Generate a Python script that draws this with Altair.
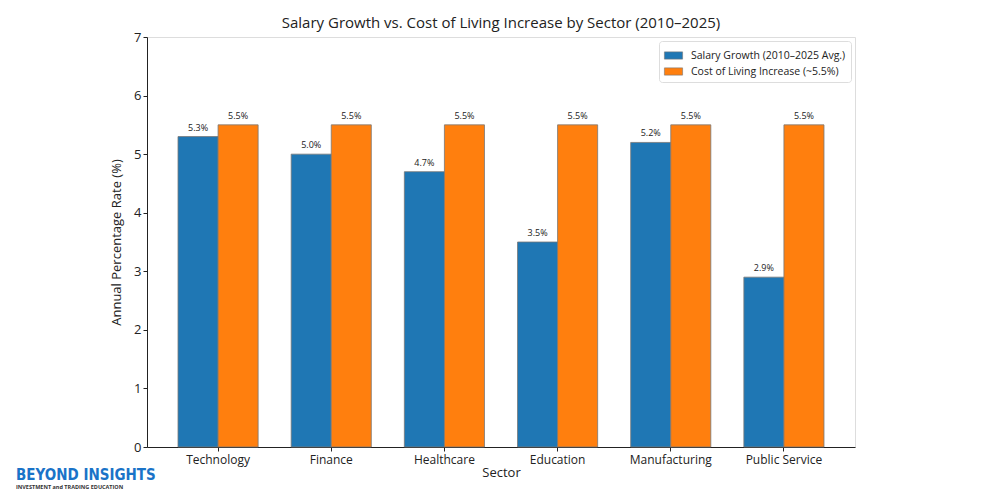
import altair as alt
import pandas as pd

sectors = ["Technology", "Finance", "Healthcare", "Education", "Manufacturing", "Public Service"]
salary_growth = [5.3, 5.0, 4.7, 3.5, 5.2, 2.9]
cost_of_living = [5.5, 5.5, 5.5, 5.5, 5.5, 5.5]
series_names = ["Salary Growth (2010–2025 Avg.)", "Cost of Living Increase (~5.5%)"]
series_colors = ["#1f77b4", "#ff7f0e"]

rows = []
for s, a, b in zip(sectors, salary_growth, cost_of_living):
    rows.append({"Sector": s, "Series": series_names[0], "Value": a, "Label": f"{a:.1f}%"})
    rows.append({"Sector": s, "Series": series_names[1], "Value": b, "Label": f"{b:.1f}%"})
df = pd.DataFrame(rows)

FONT = "Open Sans"

x_enc = alt.X("Sector:N", sort=sectors, title="Sector",
              scale=alt.Scale(paddingInner=0.292, paddingOuter=0.274),
              axis=alt.Axis(labelAngle=0, labelFontSize=12, titleFontSize=13,
                            labelColor="#222", titleColor="#222", labelPadding=3,
                            tickSize=4, tickColor="#222", domainColor="#222",
                            titlePadding=1, titleFontWeight="normal", labelFont=FONT, titleFont=FONT))
xo_enc = alt.XOffset("Series:N", sort=series_names, scale=alt.Scale(paddingInner=0, paddingOuter=0))
y_enc = alt.Y("Value:Q", title="Annual Percentage Rate (%)",
              scale=alt.Scale(domain=[0, 7], nice=False),
              axis=alt.Axis(values=[0, 1, 2, 3, 4, 5, 6, 7], format="d", grid=False, labelFontSize=13,
                            titleFontSize=13, labelColor="#222", titleColor="#222",
                            tickSize=4, tickColor="#222", domainColor="#222",
                            titlePadding=10, titleFontWeight="normal", labelFont=FONT, titleFont=FONT))

bars = alt.Chart(df).mark_bar(stroke="#777", strokeWidth=0.8).encode(
    x=x_enc, xOffset=xo_enc, y=y_enc,
    color=alt.Color("Series:N", sort=series_names,
                    scale=alt.Scale(domain=series_names, range=series_colors),
                    legend=alt.Legend(title=None, orient="top-right", offset=4,
                                      symbolType="M-1,-0.4H1V0.4H-1Z", symbolSize=330,
                                      symbolStrokeWidth=0.6, symbolStrokeColor="#777",
                                      labelFontSize=10.5, labelFont=FONT, labelColor="#222",
                                      labelLimit=0, labelOffset=8,
                                      fillColor="white", strokeColor="#ddd", padding=5,
                                      cornerRadius=3, rowPadding=1))
)

labels = alt.Chart(df).mark_text(dy=-9, fontSize=9, font=FONT, color="#222").encode(
    x=alt.X("Sector:N", sort=sectors), xOffset=alt.XOffset("Series:N", sort=series_names),
    y="Value:Q", text="Label:N"
)

logo1 = alt.Chart(pd.DataFrame({"t": ["BEYOND INSIGHTS"]})).mark_text(
    align="left", baseline="middle", fontSize=15, fontWeight="bold", font="DejaVu Sans Condensed",
    color="#1a73c8").encode(x=alt.value(-131), y=alt.value(438), text="t:N")
logo2 = alt.Chart(pd.DataFrame({"t": ["INVESTMENT and TRADING EDUCATION"]})).mark_text(
    align="left", baseline="middle", fontSize=5.5, fontWeight="bold", font=FONT,
    color="#333").encode(x=alt.value(-131), y=alt.value(450), text="t:N")

chart = alt.layer(bars, labels, logo1, logo2).properties(
    width=708, height=410,
    title=alt.TitleParams("Salary Growth vs. Cost of Living Increase by Sector (2010–2025)",
                          fontSize=15, font=FONT, fontWeight="normal", color="#222",
                          anchor="middle", offset=0),
    autosize=alt.AutoSizeParams(type="none"),
    padding={"left": 139, "top": 29, "right": 137, "bottom": 45},
).configure_view(stroke=None).configure(background="white")

chart.save("out.html", embed_options={"renderer": "svg", "actions": False})
